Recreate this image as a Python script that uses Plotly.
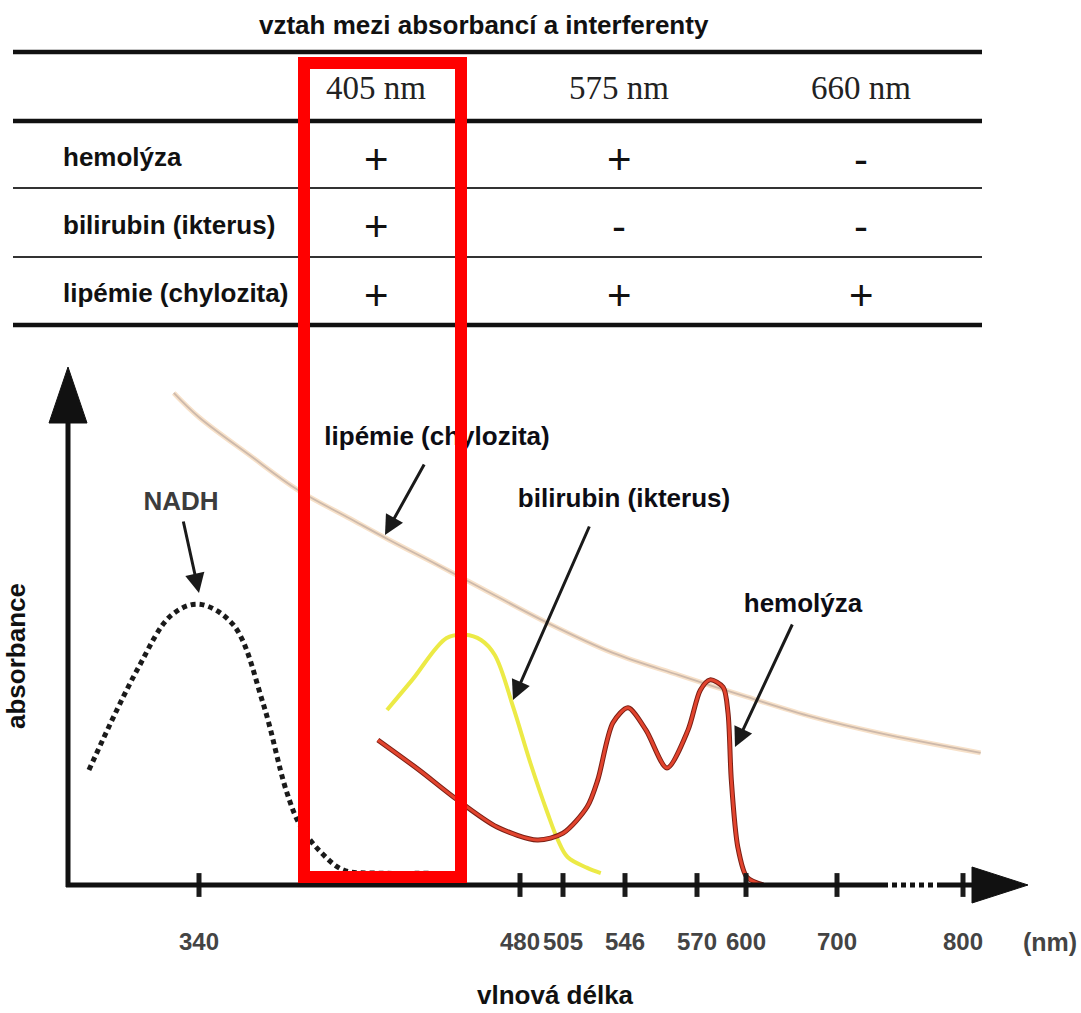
import numpy as np
import plotly.graph_objects as go

W, H = 1081, 1013

# ---------------- table data ----------------
TABLE_TITLE = "vztah mezi absorbancí a interferenty"
WAVELENGTH_COLS = ["405 nm", "575 nm", "660 nm"]
INTERFERENTS = ["hemolýza", "bilirubin (ikterus)", "lipémie (chylozita)"]
EFFECT = [["+", "+", "-"],
          ["+", "-", "-"],
          ["+", "+", "+"]]

# ---------------- chart data ----------------
TICK_NM = [340, 480, 505, 546, 570, 600, 700, 800]
TICK_TEXT = [str(v) for v in TICK_NM]

NADH_NM = [292, 313, 328, 340, 355, 368, 378, 384, 393, 403, 418, 441]
NADH_ABS = [0.222, 0.415, 0.521, 0.542, 0.502, 0.350, 0.183, 0.116, 0.064, 0.029, 0.023, 0.023]

LIPEMIA_NM = [329, 340, 362, 383, 406, 423, 444, 464, 496, 538, 564, 601, 674, 734, 814]
LIPEMIA_ABS = [0.950, 0.903, 0.830, 0.763, 0.707, 0.666, 0.618, 0.571, 0.506, 0.448,
               0.405, 0.363, 0.324, 0.293, 0.255]

BILIRUBIN_NM = [422, 433, 448, 456, 463, 469, 477, 486, 496, 502, 508, 521, 530]
BILIRUBIN_ABS = [0.338, 0.396, 0.477, 0.483, 0.473, 0.444, 0.344, 0.236, 0.139, 0.087,
                 0.054, 0.033, 0.023]

HEMOLYSIS_NM = [418, 436, 451, 470, 490, 505, 521, 528, 538, 547, 553, 560, 567, 572,
                578, 586, 589, 591, 595, 601, 619]
HEMOLYSIS_ABS = [0.280, 0.222, 0.170, 0.112, 0.087, 0.100, 0.151, 0.203, 0.313, 0.342,
                 0.299, 0.226, 0.299, 0.376, 0.396, 0.382, 0.332, 0.203, 0.073, 0.015, 0.0]

# ---------------- layout geometry (pixels) ----------------
TICK_X = [199, 520, 563, 625, 697, 746, 837, 963]   # axis positions of the ticks
BASE_PY = 885          # pixel row of the x axis
UNIT_PY = 518          # pixels per absorbance unit


def nm_to_x(nm):
    nm = np.asarray(nm, dtype=float)
    x = np.interp(nm, TICK_NM, TICK_X)
    sl = (TICK_X[1] - TICK_X[0]) / (TICK_NM[1] - TICK_NM[0])
    sr = (TICK_X[-1] - TICK_X[-2]) / (TICK_NM[-1] - TICK_NM[-2])
    x = np.where(nm < TICK_NM[0], TICK_X[0] + (nm - TICK_NM[0]) * sl, x)
    x = np.where(nm > TICK_NM[-1], TICK_X[-1] + (nm - TICK_NM[-1]) * sr, x)
    return x


def ay(py):      # pixel row -> y axis units
    return (BASE_PY - py) / UNIT_PY


def px(x):       # pixel column -> paper
    return x / W


def py(y):       # pixel row -> paper
    return (H - y) / H


SANS = "Liberation Sans, Arial, sans-serif"
SERIF = "Liberation Serif, Times New Roman, serif"

fig = go.Figure()

# lipemia (two layers for the peach/grey look)
fig.add_trace(go.Scatter(x=nm_to_x(LIPEMIA_NM), y=LIPEMIA_ABS, mode="lines",
                         line=dict(color="#f7e1c9", width=5, shape="spline"), hoverinfo="skip"))
fig.add_trace(go.Scatter(x=nm_to_x(LIPEMIA_NM), y=LIPEMIA_ABS, mode="lines",
                         line=dict(color="#cdb9ab", width=1.8, shape="spline"), hoverinfo="skip"))
# NADH dotted
fig.add_trace(go.Scatter(x=nm_to_x(NADH_NM), y=NADH_ABS, mode="lines",
                         line=dict(color="#1a1a1a", width=5, dash="5px,4px", shape="spline"),
                         hoverinfo="skip"))
# bilirubin
fig.add_trace(go.Scatter(x=nm_to_x(BILIRUBIN_NM), y=BILIRUBIN_ABS, mode="lines",
                         line=dict(color="#ecea46", width=4, shape="spline"), hoverinfo="skip"))
# hemolysis
fig.add_trace(go.Scatter(x=nm_to_x(HEMOLYSIS_NM), y=HEMOLYSIS_ABS, mode="lines",
                         line=dict(color="#7a1f14", width=5, shape="spline", smoothing=0.8),
                         hoverinfo="skip"))
fig.add_trace(go.Scatter(x=nm_to_x(HEMOLYSIS_NM), y=HEMOLYSIS_ABS, mode="lines",
                         line=dict(color="#e2442e", width=3, shape="spline", smoothing=0.8),
                         hoverinfo="skip"))
# tick marks crossing the axis
fig.add_trace(go.Scatter(x=nm_to_x(TICK_NM), y=[0] * len(TICK_NM), mode="markers",
                         marker=dict(symbol="line-ns", size=17,
                                     line=dict(color="#1a1a1a", width=5)),
                         cliponaxis=False, hoverinfo="skip"))

# curve labels (in trace layer so the red frame is drawn over them)
LABELS = [("NADH", 181, 503, "#3c3c3c"),
          ("lipémie (chylozita)", 437, 438, "#0d0d14"),
          ("bilirubin (ikterus)", 624, 500, "#0d0d14"),
          ("hemolýza", 803, 605, "#0d0d14")]
for txt, lx, ly, col in LABELS:
    fig.add_trace(go.Scatter(x=[lx], y=[ay(ly)], mode="text", text=[txt],
                             textposition="middle center",
                             textfont=dict(family=SANS, size=26, color=col, weight="bold"),
                             cliponaxis=False, hoverinfo="skip"))

shapes = []
# table rules
for yy, lw, col in [(52, 4.5, "#111"), (121, 4.5, "#111"), (188, 2, "#333"),
                    (257, 2, "#333"), (325, 4.5, "#111")]:
    shapes.append(dict(type="line", xref="paper", yref="paper", x0=px(13), x1=px(982),
                       y0=py(yy), y1=py(yy), line=dict(color=col, width=lw)))
# axes
shapes.append(dict(type="line", xref="paper", yref="paper", x0=px(68), x1=px(68),
                   y0=py(887), y1=py(415), line=dict(color="#111", width=5)))
shapes.append(dict(type="path", xref="paper", yref="paper",
                   path=f"M {px(49)},{py(423)} L {px(87)},{py(423)} L {px(68)},{py(367)} Z",
                   fillcolor="#111", line=dict(color="#111", width=1)))
shapes.append(dict(type="line", xref="paper", yref="paper", x0=px(66), x1=px(883),
                   y0=py(885), y1=py(885), line=dict(color="#111", width=5)))
shapes.append(dict(type="line", xref="paper", yref="paper", x0=px(883), x1=px(940),
                   y0=py(885), y1=py(885), line=dict(color="#111", width=5, dash="5px,4px")))
shapes.append(dict(type="line", xref="paper", yref="paper", x0=px(940), x1=px(976),
                   y0=py(885), y1=py(885), line=dict(color="#111", width=5)))
shapes.append(dict(type="path", xref="paper", yref="paper",
                   path=f"M {px(972)},{py(867)} L {px(972)},{py(903)} L {px(1028)},{py(885)} Z",
                   fillcolor="#111", line=dict(color="#111", width=1)))
# red highlight frame
shapes.append(dict(type="rect", xref="paper", yref="paper", x0=px(304), x1=px(461),
                   y0=py(877), y1=py(63), line=dict(color="#ff0000", width=12),
                   fillcolor="rgba(0,0,0,0)", layer="above"))

annotations = []
annotations.append(dict(xref="paper", yref="paper", x=px(484), y=py(25), text=TABLE_TITLE,
                        showarrow=False, xanchor="center", yanchor="middle",
                        font=dict(family=SANS, size=26, color="#111", weight="bold")))
COL_X = [376, 619, 861]
ROW_Y = [157, 225, 293]
for cx, head in zip(COL_X, WAVELENGTH_COLS):
    annotations.append(dict(xref="paper", yref="paper", x=px(cx), y=py(88), text=head,
                            showarrow=False, xanchor="center", yanchor="middle",
                            font=dict(family=SERIF, size=33, color="#222")))
for ry, name, effects in zip(ROW_Y, INTERFERENTS, EFFECT):
    annotations.append(dict(xref="paper", yref="paper", x=px(61), y=py(ry), text=name,
                            showarrow=False, xanchor="left", yanchor="middle",
                            font=dict(family=SANS, size=26, color="#111", weight="bold")))
    for cx, e in zip(COL_X, effects):
        annotations.append(dict(xref="paper", yref="paper", x=px(cx), y=py(ry + 2), text=e,
                                showarrow=False, xanchor="center", yanchor="middle",
                                font=dict(family=SANS, size=42, color="#111")))

# pointer arrows (tail pixel -> tip pixel)
ARROWS = [((183, 520), (199, 593)),
          ((425, 463), (385, 535)),
          ((590, 525), (513, 700)),
          ((793, 623), (735, 747))]
for (tx, ty), (hx, hy) in ARROWS:
    annotations.append(dict(xref="x", yref="y", axref="x", ayref="y",
                            x=hx, y=ay(hy), ax=tx, ay=ay(ty), text="",
                            showarrow=True, arrowhead=2, arrowsize=1.3, arrowwidth=3,
                            arrowcolor="#1a1a1a", standoff=0, startstandoff=0))

annotations.append(dict(xref="paper", yref="paper", x=px(16), y=py(656), text="absorbance",
                        textangle=-90, showarrow=False, xanchor="center", yanchor="middle",
                        font=dict(family=SANS, size=26, color="#111", weight="bold")))
annotations.append(dict(xref="paper", yref="paper", x=px(555), y=py(1012), text="vlnová délka",
                        showarrow=False, xanchor="center", yanchor="bottom",
                        font=dict(family=SANS, size=26, color="#111", weight="bold")))
annotations.append(dict(xref="paper", yref="paper", x=px(1079), y=py(942), text="(nm)",
                        showarrow=False, xanchor="right", yanchor="middle",
                        font=dict(family=SANS, size=25, color="#444", weight="bold")))

fig.update_layout(
    width=W, height=H, margin=dict(l=0, r=0, t=0, b=0),
    paper_bgcolor="white", plot_bgcolor="white", showlegend=False,
    xaxis=dict(range=[0, W], domain=[0, 1], showgrid=False, zeroline=False, showline=False,
               tickmode="array", tickvals=nm_to_x(TICK_NM), ticktext=TICK_TEXT, ticks="",
               tickangle=0, ticklabelstandoff=40,
               tickfont=dict(family=SANS, size=24, color="#444", weight="bold"),
               fixedrange=True),
    yaxis=dict(range=[0, BASE_PY / UNIT_PY], domain=[(H - BASE_PY) / H, 1], visible=False,
               fixedrange=True),
    shapes=shapes, annotations=annotations,
)

fig.write_html("out.html", config={"displayModeBar": False},
               post_script="document.body.style.margin='0';")
